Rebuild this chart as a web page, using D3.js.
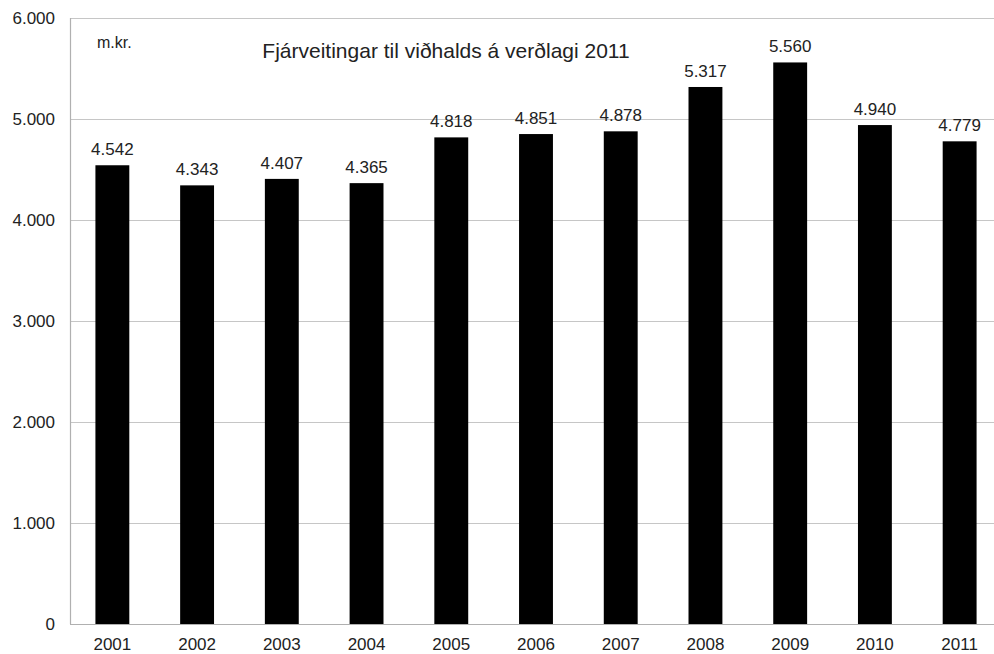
<!DOCTYPE html>
<html><head><meta charset="utf-8">
<script src="https://cdn.jsdelivr.net/npm/d3@7"></script>
<style>body{margin:0;background:#fff}svg{display:block}text{font-family:"Liberation Sans",Arial,sans-serif}</style>
</head><body>
<svg id="c" width="994" height="654"></svg>
<script>
const years = ["2001","2002","2003","2004","2005","2006","2007","2008","2009","2010","2011"];
const values = [4542,4343,4407,4365,4818,4851,4878,5317,5560,4940,4779];
const yTicks = [0,1000,2000,3000,4000,5000,6000];
const title = "Fjárveitingar til viðhalds á verðlagi 2011";
const unit = "m.kr.";

const svg = d3.select("#c");
const mL = 70, mR = 1002, mT = 18, mB = 624;
const x = d3.scaleBand().domain(years).range([mL, mR]).paddingInner(0.6).paddingOuter(0.3);
const y = d3.scaleLinear().domain([0,6000]).range([mB, mT]);
const fmt = v => v === 0 ? "0" : d3.format(",")(v).replace(/,/g, ".");
const fs = 17;

// gridlines
svg.append("g").selectAll("line").data(yTicks.filter(d => d > 0)).join("line")
  .attr("x1", mL).attr("x2", 994).attr("y1", d => y(d) + 0.5).attr("y2", d => y(d) + 0.5)
  .attr("stroke", "#c6c6c6").attr("stroke-width", 1.2);

// axes lines
svg.append("line").attr("x1", mL + 0.5).attr("x2", mL + 0.5).attr("y1", mT).attr("y2", mB)
  .attr("stroke", "#b0b0b0").attr("stroke-width", 1.2);
svg.append("line").attr("x1", mL).attr("x2", 994).attr("y1", mB + 0.5).attr("y2", mB + 0.5)
  .attr("stroke", "#b0b0b0").attr("stroke-width", 1.2);

// y tick labels
svg.append("g").selectAll("text").data(yTicks).join("text")
  .attr("x", 55).attr("y", d => y(d)).attr("dy", "0.35em").attr("text-anchor", "end")
  .attr("font-size", fs).attr("fill", "#222").text(fmt);

// bars
svg.append("g").selectAll("rect").data(values).join("rect")
  .attr("x", (d, i) => x(years[i])).attr("width", x.bandwidth())
  .attr("y", d => y(d)).attr("height", d => mB - y(d)).attr("fill", "#000");

// value labels
svg.append("g").selectAll("text").data(values).join("text")
  .attr("x", (d, i) => x(years[i]) + x.bandwidth() / 2).attr("y", d => y(d) - 10)
  .attr("text-anchor", "middle").attr("font-size", fs).attr("fill", "#222").text(fmt);

// x labels
svg.append("g").selectAll("text").data(years).join("text")
  .attr("x", d => x(d) + x.bandwidth() / 2).attr("y", 650)
  .attr("text-anchor", "middle").attr("font-size", fs).attr("fill", "#222").text(d => d);

svg.append("text").attr("x", 446).attr("y", 58).attr("text-anchor", "middle")
  .attr("font-size", 21).attr("fill", "#222").text(title);
svg.append("text").attr("x", 97).attr("y", 48)
  .attr("font-size", 16).attr("fill", "#222").text(unit);
</script>
</body></html>
